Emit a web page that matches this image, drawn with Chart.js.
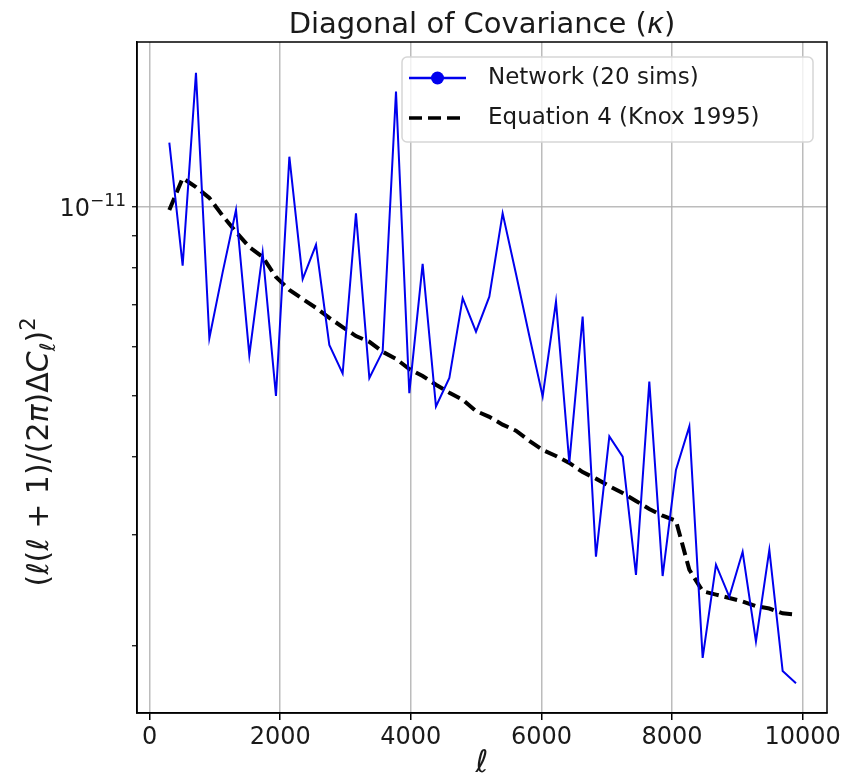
<!DOCTYPE html>
<html>
<head>
<meta charset="utf-8">
<script src="https://cdn.jsdelivr.net/npm/chart.js@4.4.1/dist/chart.umd.min.js"></script>
<style>
  html, body { margin: 0; padding: 0; background: #fff; }
</style>
</head>
<body>
<canvas id="covChart" width="845" height="780"></canvas>
<script>
// multipole bin centres
const ells = [
    302, 506, 710, 915, 1119, 1323, 1527, 1731, 1935, 2140, 2344, 2548,
    2752, 2956, 3160, 3365, 3569, 3773, 3977, 4181, 4385, 4590, 4794, 4998,
    5202, 5406, 5610, 5815, 6019, 6223, 6427, 6631, 6835, 7040, 7244, 7448,
    7652, 7856, 8060, 8265, 8469, 8673, 8877, 9081, 9285, 9490, 9694, 9898
];

const networkSims = [
    12.68e-12, 8.07e-12, 16.39e-12, 6.18e-12, 7.88e-12, 9.90e-12, 5.81e-12, 8.46e-12,
    5.00e-12, 12.04e-12, 7.68e-12, 8.71e-12, 6.03e-12, 5.43e-12, 9.78e-12, 5.34e-12,
    5.89e-12, 15.29e-12, 5.05e-12, 8.12e-12, 4.81e-12, 5.34e-12, 7.16e-12, 6.33e-12,
    7.20e-12, 9.78e-12, 7.83e-12, 6.23e-12, 4.99e-12, 7.07e-12, 3.91e-12, 6.69e-12,
    2.77e-12, 4.31e-12, 4.00e-12, 2.59e-12, 5.27e-12, 2.58e-12, 3.81e-12, 4.47e-12,
    1.91e-12, 2.69e-12, 2.39e-12, 2.82e-12, 2.03e-12, 2.84e-12, 1.82e-12, 1.74e-12
];

const knox1995 = [
    9.90e-12, 11.13e-12, 10.77e-12, 10.35e-12, 9.69e-12, 9.13e-12, 8.64e-12, 8.33e-12,
    7.74e-12, 7.38e-12, 7.14e-12, 6.91e-12, 6.66e-12, 6.44e-12, 6.23e-12, 6.10e-12,
    5.88e-12, 5.73e-12, 5.52e-12, 5.38e-12, 5.21e-12, 5.06e-12, 4.93e-12, 4.73e-12,
    4.63e-12, 4.50e-12, 4.40e-12, 4.24e-12, 4.10e-12, 4.01e-12, 3.91e-12, 3.78e-12,
    3.69e-12, 3.59e-12, 3.50e-12, 3.40e-12, 3.30e-12, 3.22e-12, 3.16e-12, 2.64e-12,
    2.44e-12, 2.41e-12, 2.38e-12, 2.35e-12, 2.31e-12, 2.29e-12, 2.25e-12, 2.24e-12
];

const xTicks = [0, 2000, 4000, 6000, 8000, 10000];
const yTicks = [2e-12, 3e-12, 4e-12, 5e-12, 6e-12, 7e-12, 8e-12, 9e-12, 1e-11];
const yMajor = 1e-11;

const FONT = '"DejaVu Sans", sans-serif';
const gridGray = 'rgba(176, 176, 176, 0.85)';
Chart.defaults.font.family = FONT;
Chart.defaults.color = '#1a1a1a';

// draw a row of text pieces (italic / sub / superscript), anchored by align
function drawRuns(ctx, runs, x, y, size, align) {
    let total = 0;
    runs.forEach(r => {
        ctx.font = (r.italic ? 'italic ' : '') + Math.round(size * (r.scale || 1)) + 'px ' + FONT;
        r.w = ctx.measureText(r.t).width;
        total += r.w;
    });
    let cx = align === 'right' ? x - total : x - total / 2;
    runs.forEach(r => {
        ctx.font = (r.italic ? 'italic ' : '') + Math.round(size * (r.scale || 1)) + 'px ' + FONT;
        ctx.fillText(r.t, cx, y + (r.dy || 0) * size);
        cx += r.w;
    });
}

const decorations = {
    id: 'decorations',
    afterDraw(chart) {
        const ctx = chart.ctx;
        const a = chart.chartArea;
        const midX = (a.left + a.right) / 2;
        ctx.save();

        // axes frame
        ctx.strokeStyle = '#000';
        ctx.lineWidth = 1.5;
        ctx.strokeRect(a.left, a.top, a.right - a.left, a.bottom - a.top);

        ctx.fillStyle = '#1a1a1a';
        ctx.textAlign = 'left';
        ctx.textBaseline = 'alphabetic';

        // title
        drawRuns(ctx, [
            { t: 'Diagonal of Covariance (' },
            { t: 'κ', italic: true },
            { t: ')' }
        ], midX, 33, 29);

        // y major tick label 10^-11
        const yMaj = chart.scales.y.getPixelForValue(yMajor);
        drawRuns(ctx, [
            { t: '10' },
            { t: '−11', scale: 0.7, dy: -0.42 }
        ], 126, yMaj + 9, 24, 'right');

        // x label
        drawRuns(ctx, [{ t: 'ℓ', italic: true }], midX, 772, 31);

        // y label
        ctx.save();
        ctx.translate(48, 452);
        ctx.rotate(-Math.PI / 2);
        drawRuns(ctx, [
            { t: '(' },
            { t: 'ℓ', italic: true },
            { t: '(' },
            { t: 'ℓ', italic: true },
            { t: ' + 1)/(2' },
            { t: 'π', italic: true },
            { t: ')Δ' },
            { t: 'C', italic: true },
            { t: 'ℓ', italic: true, scale: 0.7, dy: 0.22 },
            { t: ')' },
            { t: '2', scale: 0.7, dy: -0.45 }
        ], 0, 0, 30);
        ctx.restore();

        // legend
        const box = { x: 402, y: 57, w: 411, h: 85 };
        ctx.beginPath();
        ctx.roundRect(box.x, box.y, box.w, box.h, 5);
        ctx.fillStyle = 'rgba(255, 255, 255, 0.8)';
        ctx.fill();
        ctx.strokeStyle = '#d6d6d6';
        ctx.lineWidth = 1.5;
        ctx.stroke();

        const sets = chart.data.datasets;
        const rows = [78, 118];
        sets.forEach((ds, i) => {
            const y = rows[i];
            ctx.strokeStyle = ds.borderColor;
            ctx.lineWidth = i === 0 ? 2.5 : 3.5;
            ctx.setLineDash(ds.borderDash || []);
            ctx.beginPath();
            ctx.moveTo(409, y);
            ctx.lineTo(466, y);
            ctx.stroke();
            ctx.setLineDash([]);
            if (i === 0) {
                ctx.fillStyle = ds.borderColor;
                ctx.beginPath();
                ctx.arc(437.5, y, 6.5, 0, Math.PI * 2);
                ctx.fill();
            }
            ctx.fillStyle = '#1a1a1a';
            ctx.font = '23px ' + FONT;
            ctx.textBaseline = 'middle';
            ctx.fillText(ds.label, 488, y);
            ctx.textBaseline = 'alphabetic';
        });

        ctx.restore();
    }
};

const ctx = document.getElementById('covChart').getContext('2d');
const covChart = new Chart(ctx, {
    type: 'line',
    data: {
        datasets: [{
            label: 'Network (20 sims)',
            data: ells.map((l, i) => ({ x: l, y: networkSims[i] })),
            borderColor: '#0000ee',
            borderWidth: 2,
            pointRadius: 0,
            tension: 0
        }, {
            label: 'Equation 4 (Knox 1995)',
            data: ells.map((l, i) => ({ x: l, y: knox1995[i] })),
            borderColor: '#000000',
            borderWidth: 4,
            borderDash: [13, 6],
            pointRadius: 0,
            tension: 0
        }]
    },
    options: {
        responsive: false,
        animation: false,
        devicePixelRatio: 1,
        layout: {
            padding: { top: 42, right: 18, left: 0, bottom: 0 }
        },
        scales: {
            x: {
                type: 'linear',
                min: -193,
                max: 10373,
                afterBuildTicks: scale => {
                    scale.ticks = xTicks.map(v => ({ value: v }));
                },
                afterFit: scale => { scale.height = 67; },
                ticks: {
                    autoSkip: false,
                    maxRotation: 0,
                    padding: 3,
                    font: { size: 24 },
                    callback: v => String(v)
                },
                grid: {
                    color: gridGray,
                    lineWidth: 1.5,
                    tickColor: '#000',
                    tickLength: 7,
                    tickWidth: 1.5
                },
                border: { color: '#000', width: 1.5 }
            },
            y: {
                type: 'logarithmic',
                min: 1.56e-12,
                max: 1.835e-11,
                afterBuildTicks: scale => {
                    scale.ticks = yTicks.map(v => ({ value: v }));
                },
                afterFit: scale => { scale.width = 137; },
                ticks: {
                    autoSkip: false,
                    padding: 8,
                    font: { size: 24 },
                    callback: () => ''
                },
                grid: {
                    color: c => (c.tick && c.tick.value === yMajor ? gridGray : 'rgba(0,0,0,0)'),
                    lineWidth: 1.5,
                    tickColor: '#000',
                    tickLength: 5,
                    tickWidth: 1.2
                },
                border: { color: '#000', width: 1.5 }
            }
        },
        plugins: {
            legend: { display: false },
            title: { display: false },
            tooltip: { enabled: false }
        }
    },
    plugins: [decorations]
});
</script>
</body>
</html>
